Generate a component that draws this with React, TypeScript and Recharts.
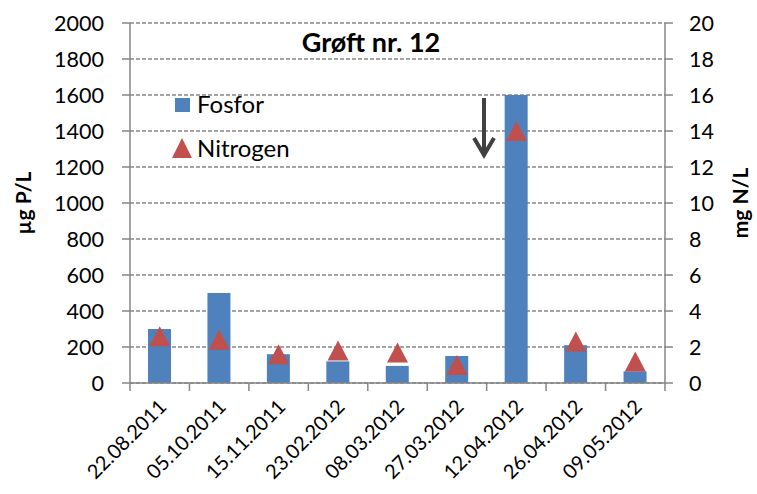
import React from 'react';
import {
  ComposedChart,
  Bar,
  Scatter,
  XAxis,
  YAxis,
  CartesianGrid,
} from 'recharts';

// sampling dates and measured values
const dates = [
  '22.08.2011',
  '05.10.2011',
  '15.11.2011',
  '23.02.2012',
  '08.03.2012',
  '27.03.2012',
  '12.04.2012',
  '26.04.2012',
  '09.05.2012',
];
const fosfor = [300, 500, 160, 120, 95, 150, 1600, 210, 65]; // µg P/L
const nitrogen = [2.6, 2.4, 1.6, 1.8, 1.7, 1.0, 14, 2.3, 1.2]; // mg N/L

const leftTicks = [0, 200, 400, 600, 800, 1000, 1200, 1400, 1600, 1800, 2000];
const rightTicks = [0, 2, 4, 6, 8, 10, 12, 14, 16, 18, 20];

const data = dates.map((name, i) => ({ name, fosfor: fosfor[i], nitrogen: nitrogen[i] }));

const W = 757;
const H = 494;
const LEFT_W = 130;
const RIGHT_W = 92;
const BAND = (W - LEFT_W - RIGHT_W) / dates.length;

const FONT = 'Lato, "Open Sans", sans-serif';
const AXIS = '#868686';
const BLUE = '#4F81BD';
const RED = '#C0504D';

const Triangle = (props: any) => {
  const { cx, cy } = props;
  if (cx == null || cy == null) return null;
  return (
    <polygon
      points={`${cx},${cy - 10} ${cx + 10.5},${cy + 10} ${cx - 10.5},${cy + 10}`}
      fill={RED}
    />
  );
};

// date label rotated 45°, plus Excel style tick marks between categories
const DateTick = (props: any) => {
  const { x, y, payload, index } = props;
  const axisY = y - 10;
  const ax = x + 8;
  const ay = y + 15;
  return (
    <g>
      <line x1={x - BAND / 2} x2={x - BAND / 2} y1={axisY} y2={axisY + 8} stroke={AXIS} strokeWidth={1.5} />
      {index === dates.length - 1 && (
        <line x1={x + BAND / 2} x2={x + BAND / 2} y1={axisY} y2={axisY + 8} stroke={AXIS} strokeWidth={1.5} />
      )}
      <text
        x={ax}
        y={ay}
        textAnchor="end"
        transform={`rotate(-45, ${ax}, ${ay})`}
        fontFamily={FONT}
        fontSize={20}
        fill="#000"
      >
        {payload.value}
      </text>
    </g>
  );
};

export default function App() {
  return (
    <div style={{ position: 'absolute', left: 0, top: 0, width: W, height: H, background: '#fff' }}>
      <ComposedChart
        width={W}
        height={H}
        data={data}
        margin={{ top: 23, right: 0, bottom: 0, left: 0 }}
      >
        <CartesianGrid
          yAxisId="left"
          vertical={false}
          stroke={AXIS}
          strokeDasharray="4 2"
          strokeWidth={1.3}
        />
        <XAxis
          dataKey="name"
          height={111}
          interval={0}
          tickLine={false}
          axisLine={{ stroke: AXIS, strokeWidth: 1.5 }}
          tickSize={0}
          tickMargin={10}
          tick={<DateTick />}
        />
        <YAxis
          yAxisId="left"
          width={LEFT_W}
          domain={[0, 2000]}
          ticks={leftTicks}
          interval={0}
          tickSize={8}
          tickMargin={18}
          axisLine={{ stroke: AXIS, strokeWidth: 1.5 }}
          tickLine={{ stroke: AXIS, strokeWidth: 1.5 }}
          tick={{ fill: '#000', fontSize: 21.5, fontFamily: FONT }}
          label={{
            value: 'µg P/L',
            angle: -90,
            position: 'insideLeft',
            offset: 24,
            style: { textAnchor: 'middle', fontWeight: 700, fontSize: 21, fontFamily: FONT, fill: '#000' },
          }}
        />
        <YAxis
          yAxisId="right"
          orientation="right"
          width={RIGHT_W}
          domain={[0, 20]}
          ticks={rightTicks}
          interval={0}
          tickSize={8}
          tickMargin={16}
          axisLine={{ stroke: AXIS, strokeWidth: 1.5 }}
          tickLine={{ stroke: AXIS, strokeWidth: 1.5 }}
          tick={{ fill: '#000', fontSize: 21.5, fontFamily: FONT, textAnchor: 'start' }}
          label={{
            value: 'mg N/L',
            angle: -90,
            position: 'insideRight',
            offset: 16,
            style: { textAnchor: 'middle', fontWeight: 700, fontSize: 21, fontFamily: FONT, fill: '#000' },
          }}
        />
        <Bar yAxisId="left" dataKey="fosfor" fill={BLUE} barSize={23} isAnimationActive={false} />
        <Scatter yAxisId="right" dataKey="nitrogen" shape={<Triangle />} isAnimationActive={false} />
        <text x={371} y={52} textAnchor="middle" fontFamily={FONT} fontWeight={700} fontSize={27} fill="#000">
          Grøft nr. 12
        </text>
        {/* legend */}
        <rect x={175} y={98} width={15} height={14} fill={BLUE} />
        <text x={197} y={113} fontFamily={FONT} fontSize={24} fill="#000">Fosfor</text>
        <polygon points="182,138 192,158 172,158" fill={RED} />
        <text x={197} y={157} fontFamily={FONT} fontSize={24} fill="#000">Nitrogen</text>
        {/* arrow */}
        <line x1={484} y1={98} x2={484} y2={154} stroke="#404040" strokeWidth={4} />
        <polyline points="474,138 484,155 494,138" fill="none" stroke="#404040" strokeWidth={4} />
      </ComposedChart>
    </div>
  );
}
